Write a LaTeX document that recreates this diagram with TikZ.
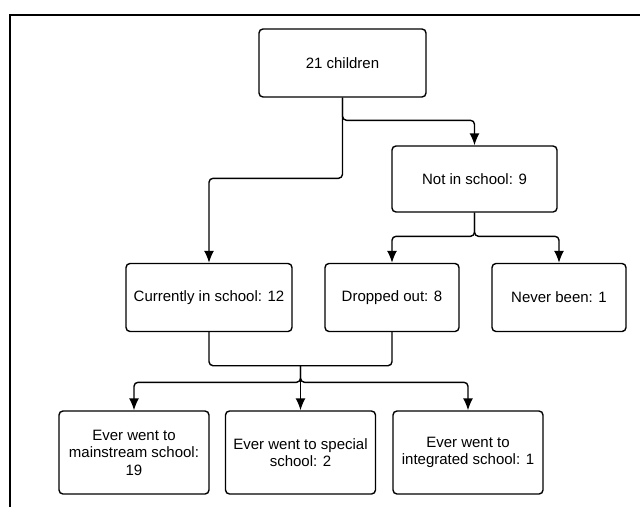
\documentclass[tikz,border=0pt]{standalone}
\usepackage{fontspec}
\setmainfont{Liberation Sans}
\usetikzlibrary{arrows.meta, calc}

\begin{document}
\begin{tikzpicture}[
    x=1pt, y=-1pt,
    font=\fontsize{15}{17.5}\selectfont,
    box/.style={rectangle, draw, rounded corners=4pt, align=center, line width=1.4pt, minimum height=68pt, inner sep=2pt},
    arrow/.style={-{Latex[length=12pt, width=10pt]}, line width=1.4pt, rounded corners=4pt},
    link/.style={line width=1.4pt, rounded corners=4pt}
]
\useasboundingbox (0,0) rectangle (640,507);

% Frame
\draw[line width=1.4pt] (640,15) -- (10,15) -- (10,507);

% Nodes
\node[box, minimum width=167pt] (total) at (342.5,63) {21 children};
\node[box, minimum width=165pt, minimum height=66pt] (notin) at (474.5,179) {Not in school: 9};
\node[box, minimum width=166pt] (current) at (209,297.5) {Currently in school: 12};
\node[box, minimum width=134pt] (dropped) at (392,297.5) {Dropped out: 8};
\node[box, minimum width=134pt] (never) at (559,297.5) {Never been: 1};
\node[box, minimum width=150pt, minimum height=83pt] (mainstream) at (134,452.5) {Ever went to\\mainstream school:\\19};
\node[box, minimum width=150pt, minimum height=83pt] (special) at (300.5,452.5) {Ever went to special\\school: 2};
\node[box, minimum width=150pt, minimum height=83pt] (integrated) at (468,452.5) {Ever went to\\integrated school: 1};

% Connections
\draw[arrow] (total.south) |- ([yshift=25pt]notin.north) -- (notin.north);
\draw[arrow] (total.south) |- ([yshift=84.5pt]current.north) -- (current.north);
\draw[arrow] (notin.south) |- ([yshift=26.5pt]dropped.north) -- (dropped.north);
\draw[arrow] (notin.south) |- ([yshift=26.5pt]never.north) -- (never.north);
\draw[link] (current.south) |- ([yshift=-33.5pt]dropped.south) -- (dropped.south);
\coordinate (merge) at ($(current.south)!0.5!(dropped.south)+(0,33.5)$);
\draw[arrow] (merge) |- ([yshift=28pt]mainstream.north) -- (mainstream.north);
\draw[arrow] (merge) |- ([yshift=28pt]integrated.north) -- (integrated.north);
\draw[arrow] (merge) -- (special.north);

\end{tikzpicture}
\end{document}
